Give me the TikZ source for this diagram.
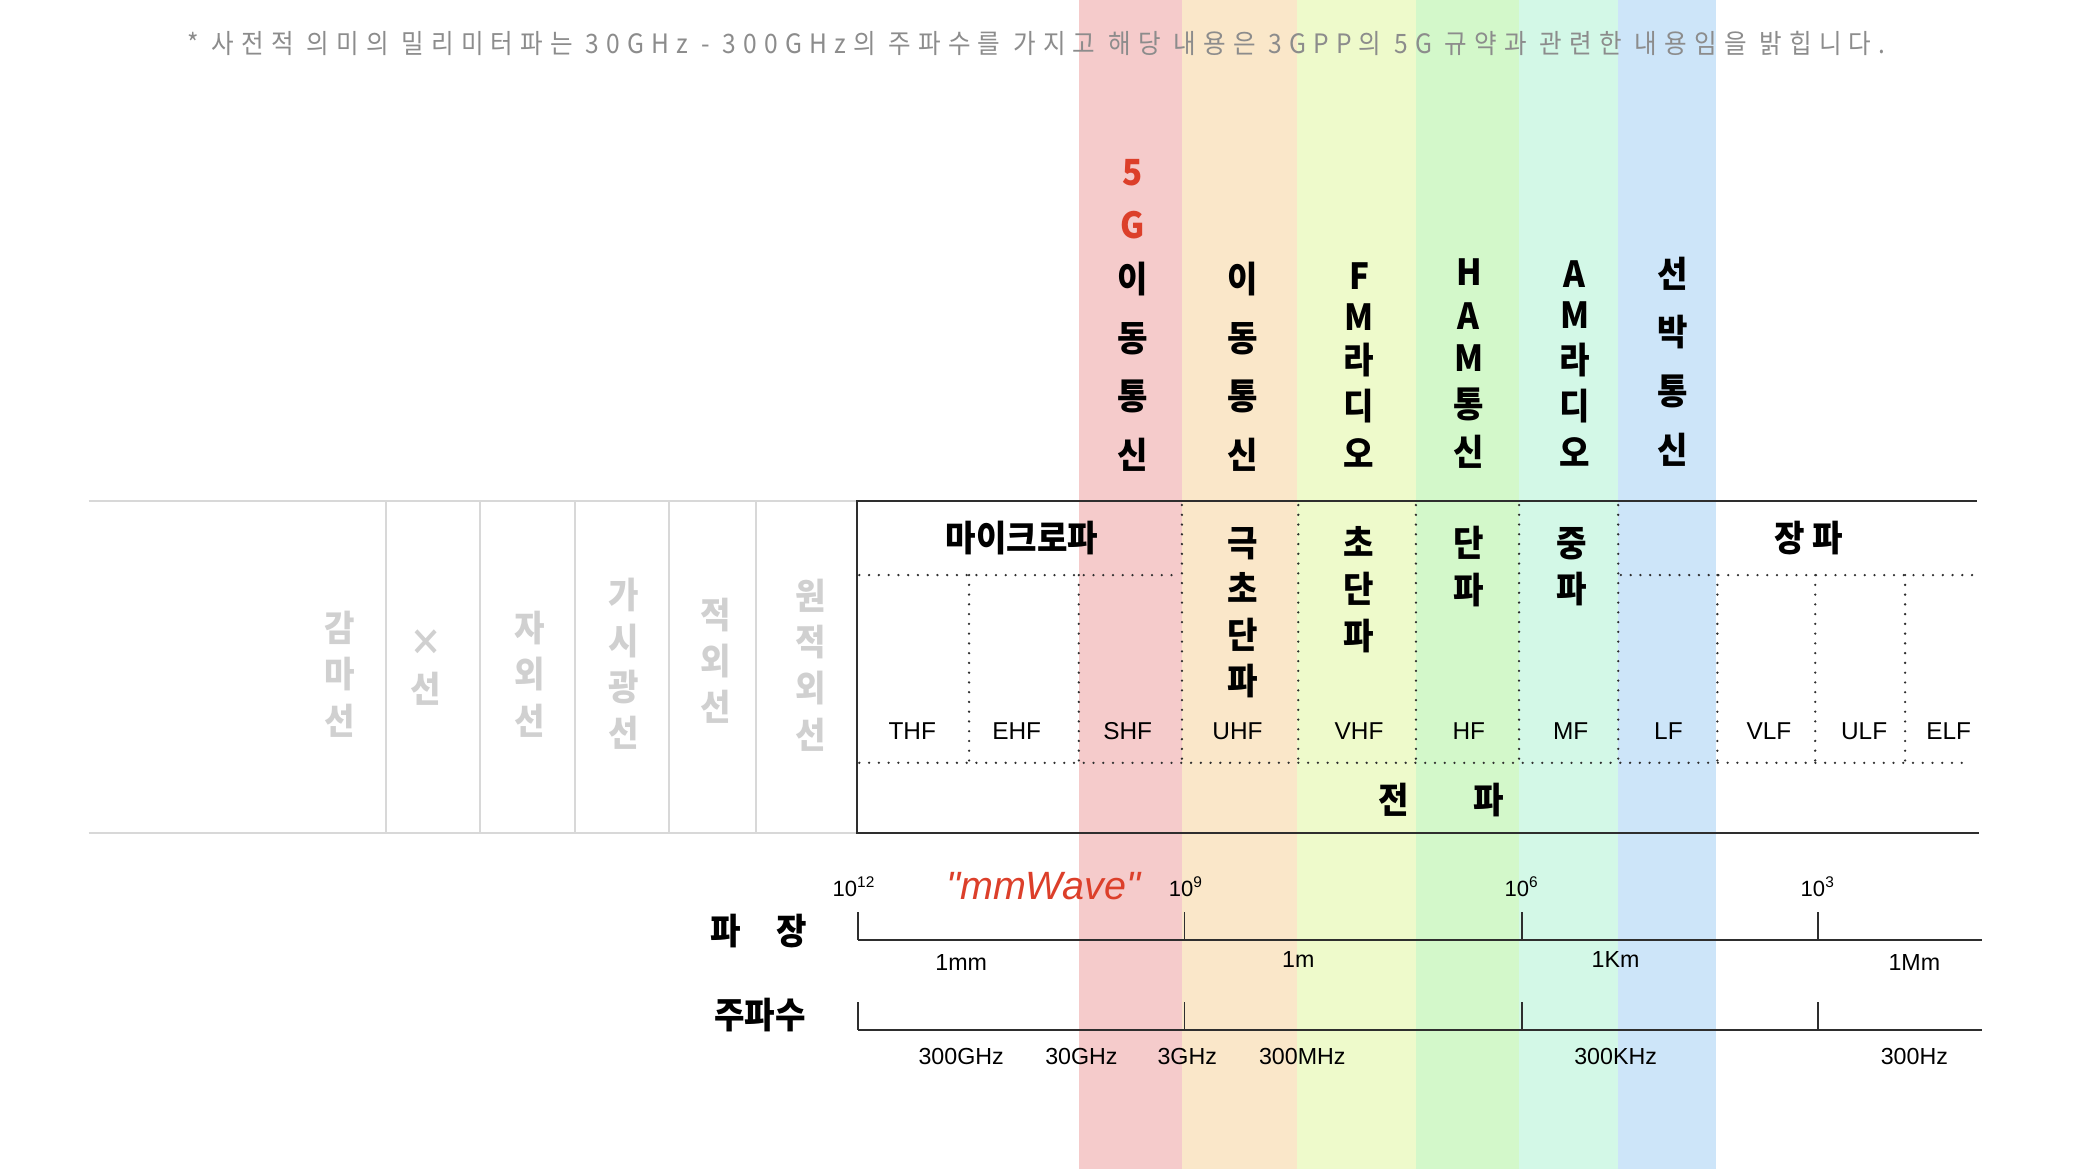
\documentclass[tikz,border=0pt]{standalone}
\usepackage{fontspec}
\setmainfont{Liberation Sans}
\newfontfamily\mmfont{Liberation Sans}
\newfontfamily\kr{Noto Sans CJK KR}[FakeStretch=0.92]
\newfontfamily\krnote{Noto Sans CJK KR}[FakeStretch=0.92, LetterSpace=27]
\definecolor{bandred}{HTML}{F5CBCB}
\definecolor{bandpeach}{HTML}{FAE7C9}
\definecolor{bandlime}{HTML}{EEFACB}
\definecolor{bandgreen}{HTML}{D3F8CA}
\definecolor{bandmint}{HTML}{D3F8E7}
\definecolor{bandblue}{HTML}{CDE5F9}
\definecolor{fgred}{HTML}{DC3F2A}
\definecolor{notegray}{HTML}{8C8C8C}
\definecolor{ltgray}{HTML}{D0D0D0}
\definecolor{rulegray}{HTML}{D8D8D8}
\definecolor{inkgray}{HTML}{2E2E2E}

\begin{document}
\begin{tikzpicture}[x=0.02cm, y=-0.02cm,
  topchar/.style={font=\kr\bfseries\fontsize{15.5}{15.5}\selectfont, inner sep=0pt},
  tabchar/.style={font=\kr\bfseries\fontsize{15.5}{19.9}\selectfont, align=center, inner sep=0pt},
  greylabel/.style={tabchar, text=ltgray},
  bandname/.style={font=\fontsize{10.5}{12}\selectfont, inner sep=0pt},
  scalelbl/.style={font=\fontsize{10}{12}\selectfont, inner sep=0pt},
  powlbl/.style={font=\fontsize{9.5}{10}\selectfont, inner sep=0pt},
  dotline/.style={inkgray, line width=1.1pt, dash pattern=on 0pt off 4.2pt, line cap=round},
  axisline/.style={inkgray, line width=1pt},
  tickline/.style={inkgray, line width=0.7pt}]

\useasboundingbox (0,0) rectangle (1568,884);

% --- Colour bands (full height) ---
\fill[bandred]   (816,0) rectangle (894,884);
\fill[bandpeach] (894,0) rectangle (981,884);
\fill[bandlime]  (981,0) rectangle (1071,884);
\fill[bandgreen] (1071,0) rectangle (1149,884);
\fill[bandmint]  (1149,0) rectangle (1224,884);
\fill[bandblue]  (1224,0) rectangle (1298,884);

% Note on top
\node[font=\krnote\fontsize{11.5}{13}\selectfont, text=notegray, inner sep=0pt] (note) at (784,33)
  {* 사전적 의미의 밀리미터파는 30GHz - 300GHz의 주파수를 가지고 해당 내용은 3GPP의 5G 규약과 관련한 내용임을 밝힙니다.};

% --- Uses of each band (one character per line) ---
\foreach \ch/\yy in {5/131, G/170}
  \node[topchar, text=fgred] (use5g\yy) at (857,\yy) {\ch};
\foreach \ch/\yy in {이/211, 동/256, 통/300, 신/344}
  \node[topchar] (usemob\yy) at (857,\yy) {\ch};
\foreach \ch/\yy in {이/211, 동/256, 통/300, 신/344}
  \node[topchar] (usecell\yy) at (940,\yy) {\ch};
\foreach \ch/\yy in {F/209, M/240, 라/272, 디/307, 오/343}
  \node[topchar] (usefm\yy) at (1028,\yy) {\ch};
\foreach \ch/\yy in {H/206, A/239, M/271, 통/306, 신/342}
  \node[topchar] (useham\yy) at (1111,\yy) {\ch};
\foreach \ch/\yy in {A/207, M/238, 라/272, 디/307, 오/342}
  \node[topchar] (useam\yy) at (1191,\yy) {\ch};
\foreach \ch/\yy in {선/207, 박/251, 통/296, 신/340}
  \node[topchar] (useship\yy) at (1265,\yy) {\ch};

% --- Table: other radiation (grey) ---
\draw[rulegray, line width=1pt] (67,379) -- (648,379);
\draw[rulegray, line width=1pt] (67,630) -- (648,630);
\foreach \xx in {292,363,435,506,572}
  \draw[rulegray, line width=0.8pt] (\xx,379) -- (\xx,630);

\node[greylabel] (gamma) at (257,510) {감\\마\\선};
\node[greylabel] (xray)  at (322,505) {×\\선};
\node[greylabel] (uv)    at (401,510) {자\\외\\선};
\node[greylabel] (vis)   at (472,502) {가\\시\\광\\선};
\node[greylabel] (ir)    at (541,500) {적\\외\\선};
\node[greylabel] (fir)   at (613,503) {원\\적\\외\\선};

% --- Table: radio waves ---
\draw[inkgray, line width=1pt] (1495,379) -- (648,379) -- (648,630) -- (1497,630);

\draw[dotline] (650,435) -- (893,435);
\draw[dotline] (1226,435) -- (1493,435);
\draw[dotline] (650,577) -- (1490,577);
\foreach \xx in {733,816,1299,1373,1441}
  \draw[dotline] (\xx,435) -- (\xx,577);
\foreach \xx in {894,982,1071,1149,1224}
  \draw[dotline] (\xx,382) -- (\xx,577);

\node[tabchar] (micro) at (773,407) {마이크로파};
\node[tabchar] (uhfk)  at (940,463.5) {극\\초\\단\\파};
\node[tabchar] (vhfk)  at (1028,446) {초\\단\\파};
\node[tabchar] (hfk)   at (1111,428.5) {단\\파};
\node[tabchar] (mfk)   at (1189,428.5) {중\\파};
\node[tabchar] (long)  at (1368,407) {장 파};

\node[bandname] (thf) at (690,553) {THF};
\node[bandname] (ehf) at (769,553) {EHF};
\node[bandname] (shf) at (853,553) {SHF};
\node[bandname] (uhf) at (936,553) {UHF};
\node[bandname] (vhf) at (1028,553) {VHF};
\node[bandname] (hf)  at (1111,553) {HF};
\node[bandname] (mf)  at (1188,553) {MF};
\node[bandname] (lf)  at (1262,553) {LF};
\node[bandname] (vlf) at (1338,553) {VLF};
\node[bandname] (ulf) at (1410,553) {ULF};
\node[bandname] (elf) at (1474,553) {ELF};

\node[tabchar] (radio) at (1090,605) {전\hspace{28pt}파};

% --- Wavelength scale ---
\node[tabchar] (wlen) at (574,704) {파\hspace{15pt}장};
\draw[axisline] (649,711) -- (1499,711);
\foreach \xx in {649,896,1151,1375}
  \draw[tickline] (\xx,690) -- (\xx,711);

\node[powlbl] (p12) at (646,671) {10\textsuperscript{12}};
\node[powlbl] (p9)  at (897,671) {10\textsuperscript{9}};
\node[powlbl] (p6)  at (1151,671) {10\textsuperscript{6}};
\node[powlbl] (p3)  at (1375,671) {10\textsuperscript{3}};
\node[font=\mmfont\itshape\fontsize{17}{19}\selectfont, text=fgred, inner sep=0pt] (mmw) at (789,670) {"mmWave"};

\node[scalelbl] (mm) at (727,728) {1mm};
\node[scalelbl] (m)  at (982,726) {1m};
\node[scalelbl] (km) at (1222,726) {1Km};
\node[scalelbl] (Mm) at (1448,728) {1Mm};

% --- Frequency scale ---
\node[tabchar] (freq) at (575,768) {주파수};
\draw[axisline] (649,779) -- (1499,779);
\foreach \xx in {649,896,1151,1375}
  \draw[tickline] (\xx,758) -- (\xx,779);

\node[scalelbl] (f300g) at (727,799) {300GHz};
\node[scalelbl] (f30g)  at (818,799) {30GHz};
\node[scalelbl] (f3g)   at (898,799) {3GHz};
\node[scalelbl] (f300m) at (985,799) {300MHz};
\node[scalelbl] (f300k) at (1222,799) {300KHz};
\node[scalelbl] (f300h) at (1448,799) {300Hz};

\end{tikzpicture}
\end{document}
